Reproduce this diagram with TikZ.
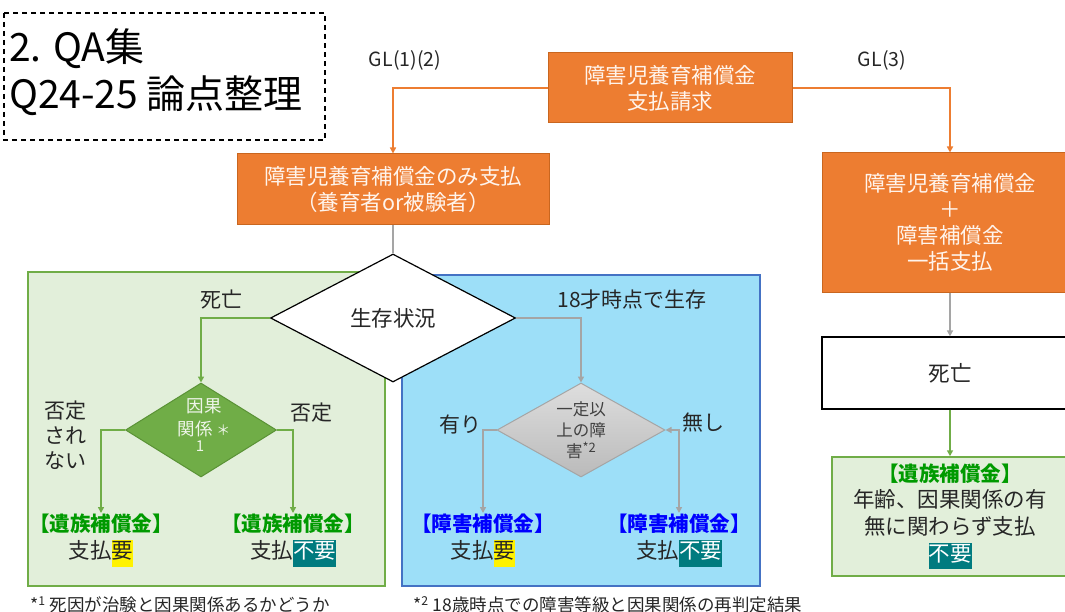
\documentclass[tikz,border=0pt]{standalone}
\usepackage{fontspec}
\setmainfont{Noto Sans CJK JP}
\usetikzlibrary{shapes.geometric,arrows.meta}
\definecolor{orng}{HTML}{ED7D31}
\definecolor{orngd}{HTML}{C9661F}
\definecolor{orngtxt}{HTML}{FFF4EC}
\definecolor{lgreen}{HTML}{E2EFDA}
\definecolor{mgreen}{HTML}{70AD47}
\definecolor{dkgreen}{HTML}{5A9236}
\definecolor{lblue}{HTML}{9DDFF8}
\definecolor{bblue}{HTML}{4472C4}
\definecolor{tealhl}{HTML}{007B7F}
\definecolor{resgreen}{HTML}{009A00}
\definecolor{resblue}{HTML}{0000FF}
\definecolor{txt}{HTML}{262626}
\definecolor{gline}{HTML}{A5A5A5}
\definecolor{gdtxt}{HTML}{404040}
\newcommand{\hly}[1]{{\setlength{\fboxsep}{0pt}\colorbox{yellow}{\strut #1}}}
\newcommand{\hlt}[1]{{\setlength{\fboxsep}{0pt}\colorbox{tealhl}{\strut\color{white}#1}}}
\tikzset{
  obox/.style={draw=orngd, fill=orng, line width=1pt, text=orngtxt, align=center,
    font=\fontsize{21.5}{26}\selectfont, inner sep=0pt},
  wbox/.style={draw=black, fill=white, line width=1.2pt, text=txt, align=center,
    font=\fontsize{21.5}{26}\selectfont, inner sep=0pt},
  gbox/.style={draw=mgreen, fill=lgreen, line width=1.5pt, text=txt, align=center,
    font=\fontsize{21.5}{26.7}\selectfont, inner sep=0pt},
  lbl/.style={text=txt, font=\fontsize{21}{25}\selectfont, align=center, inner sep=0pt},
  res/.style={text=txt, font=\fontsize{21.5}{27}\selectfont, align=center, inner sep=1pt},
  oarrow/.style={draw=orng, line width=1.5pt, -{Triangle[width=6pt,length=6pt]}},
  grarrow/.style={draw=gline, line width=1.5pt, -{Triangle[width=6pt,length=6pt]}},
  gnarrow/.style={draw=mgreen, line width=1.5pt, -{Triangle[width=6pt,length=6pt]}},
}
\begin{document}
\begin{tikzpicture}[x=1pt,y=-1pt]
\useasboundingbox (0,0) rectangle (1065,612);
% title
\draw[dashed, line width=1.2pt, dash pattern=on 5pt off 4pt] (4,13) rectangle (325,140);
\node[anchor=west, align=left, text=black, font=\fontsize{39}{47}\selectfont, inner sep=0pt] (title) at (9,72) {2. QA集\\Q24-25 論点整理};
% regions
\draw[draw=mgreen, fill=lgreen, line width=1.5pt] (28,272) rectangle (385,586);
\draw[draw=bblue, fill=lblue, line width=1.5pt] (402,275) rectangle (760,586);
% top boxes
\node[obox, minimum width=244pt, minimum height=70pt] (top) at (670,88) {障害児養育補償金\\支払請求};
\node[obox, minimum width=312pt, minimum height=71pt] (b1) at (393,189.5) {障害児養育補償金のみ支払\\（養育者or被験者）};
\node[obox, minimum width=256pt, minimum height=139pt] (b2) at (950,222.5) {障害児養育補償金\\＋\\障害補償金\\一括支払};
\node[lbl, font=\fontsize{19.5}{24}\selectfont] (gl12) at (405,60) {GL(1)(2)};
\node[lbl, font=\fontsize{19.5}{24}\selectfont] (gl3) at (882,60) {GL(3)};
\draw[oarrow] (top.west) -| (b1.north);
\draw[oarrow] (top.east) -| (b2.north);
% main diamond
\node[diamond, draw=black, fill=white, line width=1.2pt, minimum width=245pt, minimum height=128pt, inner sep=0pt] (d1) at (393,318) {};
\node[lbl, font=\fontsize{21.5}{26}\selectfont] (d1t) at (d1.center) {生存状況};
\draw[draw=gline, line width=1.5pt] (b1.south) -- (d1.north);
% green diamond
\node[diamond, draw=dkgreen, fill=mgreen, line width=1pt, minimum width=151pt, minimum height=94pt, inner sep=0pt] (d2) at (201,430) {};
\node[text=white!88!mgreen, font=\fontsize{17.5}{23}\selectfont, align=center, inner sep=0pt] (d2t) at (204,425) {因果\\関係 {\fontsize{14}{14}\selectfont ＊}\\[-7pt]\hspace*{-8pt}{\fontsize{15}{15}\selectfont 1}};
% gray diamond
\node[diamond, draw=gline, top color=black!13, bottom color=black!27, line width=1pt, minimum width=168pt, minimum height=94pt, inner sep=0pt] (d3) at (581,430) {};
\node[text=gdtxt, font=\fontsize{16.5}{21}\selectfont, align=center, inner sep=0pt] (d3t) at (581,430) {一定以\\上の障\\害{\fontsize{13}{13}\selectfont\raisebox{5pt}{*2}}};
% results
\node[res, anchor=north] (r1) at (101,513) {{\bfseries\color{resgreen}\fontsize{20.5}{27}\selectfont 【遺族補償金】}\\支払\hly{要}};
\node[res, anchor=north] (r2) at (293,513) {{\bfseries\color{resgreen}\fontsize{20.5}{27}\selectfont 【遺族補償金】}\\支払\hlt{不要}};
\node[res, anchor=north] (r3) at (483,513) {{\bfseries\color{resblue}\fontsize{20.5}{27}\selectfont 【障害補償金】}\\支払\hly{要}};
\node[res, anchor=north] (r4) at (679,513) {{\bfseries\color{resblue}\fontsize{20.5}{27}\selectfont 【障害補償金】}\\支払\hlt{不要}};
% connectors in regions
\draw[gnarrow] (d1.west) -| (d2.north);
\draw[grarrow] (d1.east) -| (d3.north);
\draw[gnarrow] (d2.west) -| (r1.north);
\draw[gnarrow] (d2.east) -| (r2.north);
\draw[grarrow] (d3.west) -| (r3.north);
\draw[draw=gline, line width=1.5pt, {Triangle[width=6pt,length=6pt]}-{Triangle[width=6pt,length=6pt]}] (d3.east) -| (r4.north);
% labels
\node[lbl] (l1) at (221,300) {死亡};
\node[lbl] (l2) at (632,300) {18才時点で生存};
\node[lbl] (l3) at (65,435) {否定\\され\\ない};
\node[lbl] (l4) at (311,413) {否定};
\node[lbl] (l5) at (460,425) {有り};
\node[lbl] (l6) at (703,423) {無し};
% right column
\node[wbox, minimum width=256pt, minimum height=72pt] (b3) at (950,373) {死亡};
\node[gbox, minimum width=236pt, minimum height=119pt] (b4) at (950,516.5) {{\bfseries\color{resgreen}\fontsize{20.5}{26.7}\selectfont 【遺族補償金】}\\年齢、因果関係の有\\無に関わらず支払\\\hlt{不要}};
\draw[grarrow] (b2.south) -- (b3.north);
\draw[gnarrow] (b3.south) -- (b4.north);
% footnotes
\node[anchor=west, text=txt, font=\fontsize{17.5}{20}\selectfont, inner sep=0pt] (f1) at (30,605) {*\textsuperscript{1} 死因が治験と因果関係あるかどうか};
\node[anchor=west, text=txt, font=\fontsize{17.5}{20}\selectfont, inner sep=0pt] (f2) at (413,605) {*\textsuperscript{2} 18歳時点での障害等級と因果関係の再判定結果};
\end{tikzpicture}
\end{document}
